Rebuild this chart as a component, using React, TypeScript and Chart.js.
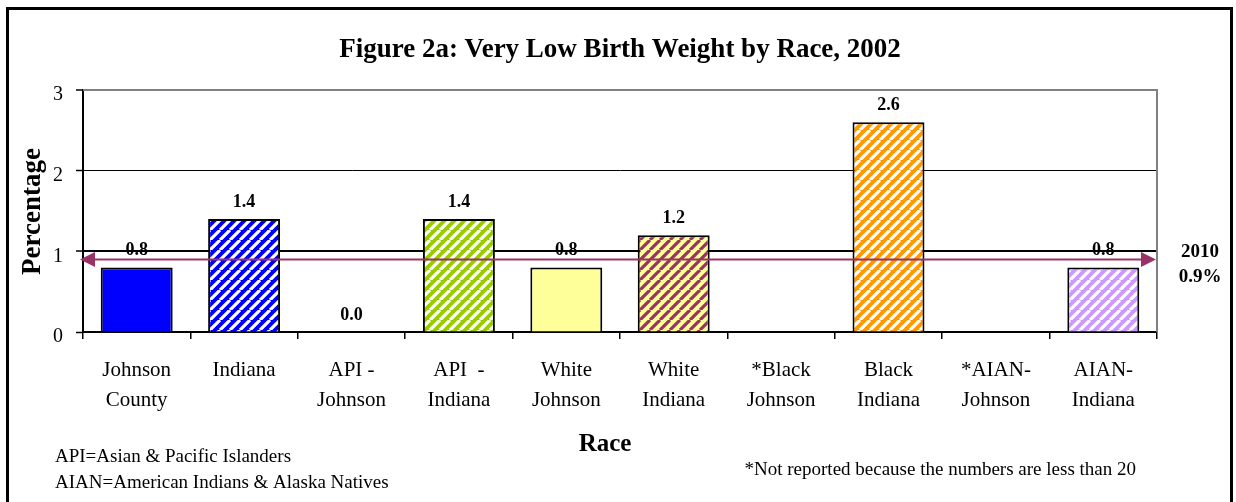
import React, { useEffect, useRef } from "react";
import { Chart, registerables } from "chart.js";

Chart.register(...registerables);

const categories: string[][] = [
  ["Johnson", "County"],
  ["Indiana"],
  ["API -", "Johnson"],
  ["API  -", "Indiana"],
  ["White", "Johnson"],
  ["White", "Indiana"],
  ["*Black", "Johnson"],
  ["Black", "Indiana"],
  ["*AIAN-", "Johnson"],
  ["AIAN-", "Indiana"],
];
const values: (number | null)[] = [0.8, 1.4, 0.0, 1.4, 0.8, 1.2, null, 2.6, null, 0.8];
const baseColors = ["#0000FF", "#0000FF", "#FFFFFF", "#99CC00", "#FFFF99", "#FFFF99", "#FFFFFF", "#FF9900", "#FFFFFF", "#CC99FF"];
const stripeColors: (string | null)[] = [null, "#FFFFFF", null, "#FFFFFF", null, "#993366", null, "#FFFFFF", null, "#FFFFFF"];
const yMin = 0;
const yMax = 3;
const yStep = 1;
const targetValue = 0.9;
const targetLabel = ["2010", "0.9%"];
const titleText = "Figure 2a: Very Low Birth Weight by Race, 2002";
const yTitle = "Percentage";
const xTitle = "Race";
const notesLeft = ["API=Asian & Pacific Islanders", "AIAN=American Indians & Alaska Natives"];
const noteRight = "*Not reported because the numbers are less than 20";

const FONT = "'Times New Roman', 'Liberation Serif', serif";
const MAROON = "#993366";

function makePattern(bg: string, fg: string): CanvasPattern | string {
  const s = 10;
  const c = document.createElement("canvas");
  c.width = s;
  c.height = s;
  const g = c.getContext("2d");
  if (!g) return bg;
  g.fillStyle = bg;
  g.fillRect(0, 0, s, s);
  g.strokeStyle = fg;
  g.lineWidth = 3.2;
  g.beginPath();
  for (let k = -1; k <= 1; k++) {
    g.moveTo(k * s, s);
    g.lineTo(k * s + s, 0);
  }
  g.stroke();
  const p = g.createPattern(c, "repeat");
  return p || bg;
}

const decorPlugin = {
  id: "decor",
  beforeDraw(chart: any) {
    const ctx = chart.ctx;
    ctx.save();
    ctx.fillStyle = "#FFFFFF";
    ctx.fillRect(0, 0, chart.width, chart.height);
    ctx.restore();
  },
  beforeDatasetsDraw(chart: any) {
    const { ctx, chartArea } = chart;
    ctx.save();
    ctx.strokeStyle = "#808080";
    ctx.lineWidth = 2;
    ctx.beginPath();
    ctx.moveTo(chartArea.left, chartArea.top);
    ctx.lineTo(chartArea.right, chartArea.top);
    ctx.lineTo(chartArea.right, chartArea.bottom);
    ctx.stroke();
    ctx.restore();
  },
  afterDatasetsDraw(chart: any) {
    const { ctx, chartArea, scales } = chart;
    const yS = scales.y;
    const meta = chart.getDatasetMeta(0);
    ctx.save();
    // data labels
    ctx.fillStyle = "#000";
    ctx.font = `bold 18px ${FONT}`;
    ctx.textAlign = "center";
    ctx.textBaseline = "middle";
    values.forEach((v, i) => {
      if (v === null) return;
      const el = meta.data[i];
      ctx.fillText(v.toFixed(1), el.x, yS.getPixelForValue(v) - 17);
    });
    // target arrow line
    const y = yS.getPixelForValue(targetValue);
    const x1 = chartArea.left - 3;
    const x2 = chartArea.right - 1;
    const ah = 15;
    const hw = 7.5;
    ctx.strokeStyle = MAROON;
    ctx.fillStyle = MAROON;
    ctx.lineWidth = 2;
    ctx.beginPath();
    ctx.moveTo(x1 + ah - 1, y);
    ctx.lineTo(x2 - ah + 1, y);
    ctx.stroke();
    ctx.beginPath();
    ctx.moveTo(x1, y);
    ctx.lineTo(x1 + ah, y - hw);
    ctx.lineTo(x1 + ah, y + hw);
    ctx.closePath();
    ctx.fill();
    ctx.beginPath();
    ctx.moveTo(x2, y);
    ctx.lineTo(x2 - ah, y - hw);
    ctx.lineTo(x2 - ah, y + hw);
    ctx.closePath();
    ctx.fill();
    ctx.restore();
  },
  afterDraw(chart: any) {
    const { ctx } = chart;
    ctx.save();
    ctx.fillStyle = "#000";
    // title
    ctx.font = `bold 27px ${FONT}`;
    ctx.textAlign = "center";
    ctx.textBaseline = "alphabetic";
    ctx.fillText(titleText, 620, 57);
    // y title
    ctx.save();
    ctx.translate(40, 211.5);
    ctx.rotate(-Math.PI / 2);
    ctx.font = `bold 27px ${FONT}`;
    ctx.textAlign = "center";
    ctx.textBaseline = "alphabetic";
    ctx.fillText(yTitle, 0, 0);
    ctx.restore();
    // x title
    ctx.font = `bold 25px ${FONT}`;
    ctx.textAlign = "center";
    ctx.textBaseline = "middle";
    ctx.fillText(xTitle, 605, 445);
    // target label
    ctx.font = `bold 19px ${FONT}`;
    ctx.fillText(targetLabel[0], 1200, 252);
    ctx.fillText(targetLabel[1], 1200, 277);
    // notes
    ctx.font = `19px ${FONT}`;
    ctx.textAlign = "left";
    ctx.fillText(notesLeft[0], 55, 457);
    ctx.fillText(notesLeft[1], 55, 483);
    ctx.textAlign = "right";
    ctx.fillText(noteRight, 1136, 470);
    // outer border
    ctx.strokeStyle = "#000";
    ctx.lineWidth = 3;
    ctx.strokeRect(7.5, 8.5, 1224, 600);
    ctx.restore();
  },
};

export default function App() {
  const ref = useRef<HTMLCanvasElement | null>(null);
  useEffect(() => {
    document.body.style.margin = "0";
    const canvas = ref.current;
    if (!canvas) return;
    const bgs = baseColors.map((c, i) => {
      const s = stripeColors[i];
      return s ? makePattern(c, s) : c;
    });
    const chart = new Chart(canvas, {
      type: "bar",
      data: {
        labels: categories as any,
        datasets: [
          {
            data: values as any,
            backgroundColor: bgs as any,
            borderColor: "#000000",
            borderWidth: 2,
            barPercentage: 0.67,
            categoryPercentage: 1,
          },
        ],
      },
      options: {
        animation: false,
        responsive: false,
        maintainAspectRatio: false,
        devicePixelRatio: 1,
        layout: { padding: { top: 90, right: 79, left: 0, bottom: 0 } },
        plugins: {
          legend: { display: false },
          tooltip: { enabled: false },
          title: { display: false },
        },
        scales: {
          x: {
            offset: true,
            grid: {
              offset: true,
              drawOnChartArea: false,
              color: "#000",
              lineWidth: 1.5,
              tickLength: 7,
            },
            border: { display: true, color: "#000", width: 2 },
            ticks: {
              color: "#000",
              font: { family: FONT, size: 21, lineHeight: 1.43 },
              padding: 16,
              maxRotation: 0,
              autoSkip: false,
            },
            afterFit: (s: any) => {
              s.height = 170;
            },
          },
          y: {
            min: yMin,
            max: yMax,
            ticks: {
              stepSize: yStep,
              color: "#000",
              font: { family: FONT, size: 20 },
              padding: 13,
              labelOffset: 5,
            },
            grid: {
              color: (c: any) => (c.tick && c.tick.value === yMax ? "#808080" : "#000"),
              lineWidth: (c: any) => (c.tick && (c.tick.value === 1 || c.tick.value === yMax) ? 2 : 1),
              tickLength: 7,
              tickColor: "#000",
              tickWidth: 1.5,
            },
            border: { color: "#000", width: 2 },
            afterFit: (s: any) => {
              s.width = 83;
            },
          },
        },
      },
      plugins: [decorPlugin],
    });
    return () => chart.destroy();
  }, []);
  return (
    <div style={{ width: 1236, height: 502, background: "#fff" }}>
      <canvas ref={ref} width={1236} height={502} style={{ display: "block", width: 1236, height: 502 }} />
    </div>
  );
}
